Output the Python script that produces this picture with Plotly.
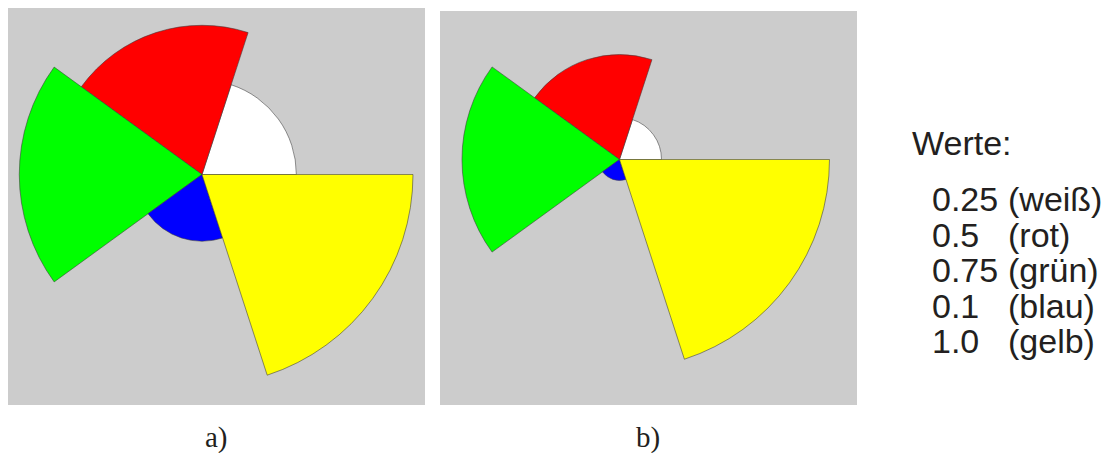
import numpy as np
import plotly.graph_objects as go

# ---- data ----
categories = ["weiß", "rot", "grün", "blau", "gelb"]
legend_values = ["0.25", "0.5", "0.75", "0.1", "1.0"]
# radii as drawn in the picture (value scale)
plot_values = [0.2, 0.5, 0.75, 0.1, 1.0]
colors = ["#ffffff", "#ff0000", "#00ff00", "#0000ff", "#ffff00"]
theta_centers = [36, 108, 180, 252, 324]
sector_width = 72

# window size and hidden offset of the figure (figure is shifted up/left by CSS)
WIN_W, WIN_H = 1106, 453
OX, OY = 20, 60
W, H = WIN_W + OX, WIN_H + OY

def px(x):
    return (x + OX) / W

def py(y):
    return 1 - (y + OY) / H

fig = go.Figure()

# panel geometry (window pixels)
ca = (202, 174.5); Ra_full = 211
cb = (619.5, 159.5); Rb_full = 210
pad = 1.02

r_a = list(np.sqrt(plot_values))  # a) area proportional
r_b = list(plot_values)           # b) radius proportional

for name, rr in (("polar", r_a), ("polar2", r_b)):
    fig.add_trace(go.Barpolar(
        r=rr, theta=theta_centers, width=[sector_width] * 5,
        marker=dict(color=colors, line=dict(color="rgba(60,60,60,0.8)", width=0.7)),
        subplot=name, showlegend=False, hoverinfo="skip",
    ))

def polar_layout(c, Rfull):
    P = Rfull * pad
    return dict(
        domain=dict(x=[px(c[0] - P), px(c[0] + P)], y=[py(c[1] + P), py(c[1] - P)]),
        bgcolor="rgba(0,0,0,0)",
        radialaxis=dict(visible=False, range=[0, pad]),
        angularaxis=dict(visible=False, direction="counterclockwise", rotation=0),
    )

shapes = [
    dict(type="rect", xref="paper", yref="paper", x0=px(8), x1=px(425), y0=py(405), y1=py(8),
         fillcolor="#cccccc", line=dict(width=0), layer="below"),
    dict(type="rect", xref="paper", yref="paper", x0=px(440), x1=px(857), y0=py(405), y1=py(11),
         fillcolor="#cccccc", line=dict(width=0), layer="below"),
]

txtcol = "#231f20"
sans = "Liberation Sans, Arial, sans-serif"
serif = "Liberation Serif, Times New Roman, serif"
annotations = [
    dict(x=px(910), y=py(143), text="Werte:", showarrow=False, xanchor="left", yanchor="middle",
         font=dict(family=sans, size=34, color=txtcol)),
    dict(x=px(216), y=py(437), text="a)", showarrow=False, xanchor="center", yanchor="middle",
         font=dict(family=serif, size=29, color=txtcol)),
    dict(x=px(648), y=py(437), text="b)", showarrow=False, xanchor="center", yanchor="middle",
         font=dict(family=serif, size=29, color=txtcol)),
]
line_y = [199, 234.5, 270, 305.5, 341]
for v, c, y in zip(legend_values, categories, line_y):
    annotations.append(dict(x=px(930), y=py(y), text=v, showarrow=False, xanchor="left", yanchor="middle",
                            font=dict(family=sans, size=34, color=txtcol)))
    annotations.append(dict(x=px(1006), y=py(y), text="(" + c + ")", showarrow=False, xanchor="left",
                            yanchor="middle", font=dict(family=sans, size=34, color=txtcol)))

fig.update_layout(
    width=W, height=H, margin=dict(l=0, r=0, t=0, b=0),
    paper_bgcolor="white", plot_bgcolor="white",
    polar=polar_layout(ca, Ra_full),
    polar2=polar_layout(cb, Rb_full),
    shapes=shapes, annotations=annotations, showlegend=False,
)

post = (
    "document.body.style.margin='0';document.body.style.overflow='hidden';"
    "var d=document.getElementById('{plot_id}');"
    "d.style.position='absolute';d.style.left='-%dpx';d.style.top='-%dpx';" % (OX, OY)
)
fig.write_html("out.html", post_script=post)
